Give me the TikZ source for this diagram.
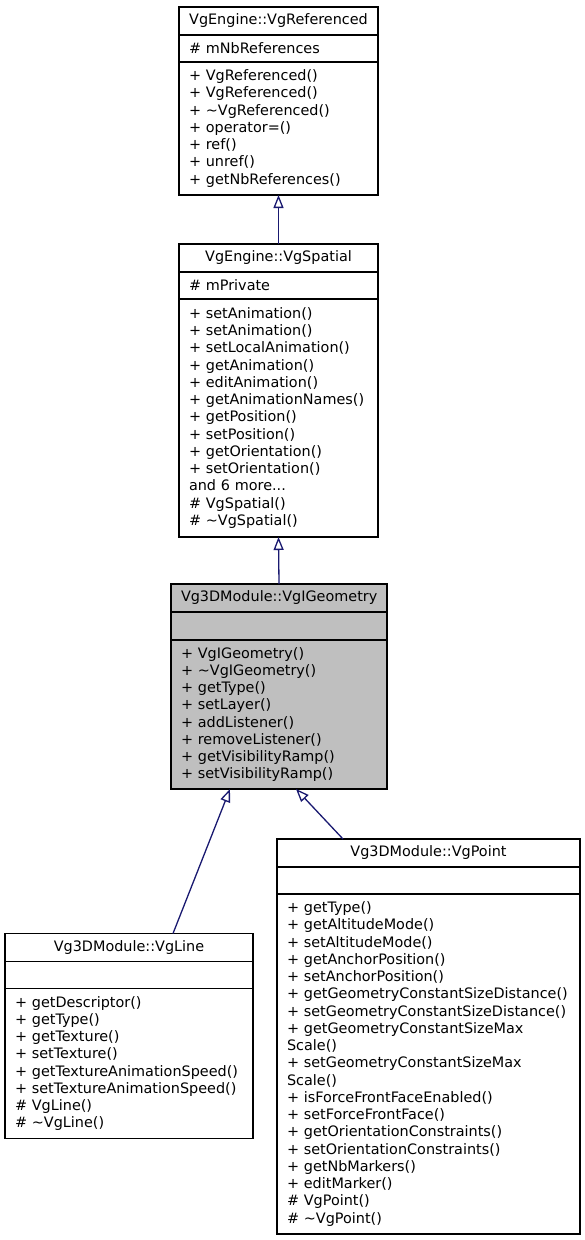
\documentclass[tikz,border=0pt]{standalone}
\usepackage{fontspec}
\setmainfont{DejaVu Sans}
\usepackage{xcolor}
\usetikzlibrary{positioning, arrows.meta}
\definecolor{edgeblue}{HTML}{191970}
\definecolor{boxgray}{HTML}{BFBFBF}

\begin{document}
\begin{tikzpicture}[
			x=1pt, y=-1pt,
			font=\fontsize{14.4}{17.25}\selectfont,
			box/.style={
				draw,
				rectangle,
				line width=1.3pt,
				outer sep=0pt,
				inner xsep=10pt,
				inner ysep=0pt,
				align=left
			},
			clshead/.style={box, minimum height=28pt, align=center},
			clsattr/.style={box, minimum height=27pt},
			clsops/.style={box},
			inherit/.style={
				draw=edgeblue,
				line width=1.3pt,
				-{Triangle[length=13pt, width=10pt, fill=white]}
			}
			]
			\useasboundingbox (0,0) rectangle (584,1240);
			
			% Top class
			\node[clshead, text width=179pt] (reftitle) at (278.5,21) {VgEngine::VgReferenced};
			\node[clsattr, text width=179pt, below=0pt of reftitle] (refattr) {\# mNbReferences};
			\node[clsops, text width=179pt, minimum height=133pt, below=0pt of refattr] (refops) {+ VgReferenced()\\+ VgReferenced()\\+ \textasciitilde VgReferenced()\\+ operator=()\\+ ref()\\+ unref()\\+ getNbReferences()};
			
			% Second class
			\node[clshead, text width=179pt] (spatialtitle) at (278.5,258) {VgEngine::VgSpatial};
			\node[clsattr, text width=179pt, below=0pt of spatialtitle] (spatialattr) {\# mPrivate};
			\node[clsops, text width=179pt, minimum height=238pt, below=0pt of spatialattr] (spatialops) {+ setAnimation()\\+ setAnimation()\\+ setLocalAnimation()\\+ getAnimation()\\+ editAnimation()\\+ getAnimationNames()\\+ getPosition()\\+ setPosition()\\+ getOrientation()\\+ setOrientation()\\and 6 more...\\\# VgSpatial()\\\# \textasciitilde VgSpatial()};
			
			% Middle class (grey)
			\node[clshead, fill=boxgray, text width=196pt] (geomtitle) at (279,598) {Vg3DModule::VgIGeometry};
			\node[clsattr, fill=boxgray, text width=196pt, minimum height=28pt, below=0pt of geomtitle] (geomattr) {};
			\node[clsops, fill=boxgray, text width=196pt, minimum height=149pt, below=0pt of geomattr] (geomops) {+ VgIGeometry()\\+ \textasciitilde VgIGeometry()\\+ getType()\\+ setLayer()\\+ addListener()\\+ removeListener()\\+ getVisibilityRamp()\\+ setVisibilityRamp()};
			
			% Bottom left class
			\node[clshead, text width=228pt] (linetitle) at (129,947.5) {Vg3DModule::VgLine};
			\node[clsattr, text width=228pt, below=0pt of linetitle] (lineattr) {};
			\node[clsops, text width=228pt, minimum height=150pt, below=0pt of lineattr] (lineops) {+ getDescriptor()\\+ getType()\\+ getTexture()\\+ setTexture()\\+ getTextureAnimationSpeed()\\+ setTextureAnimationSpeed()\\\# VgLine()\\\# \textasciitilde VgLine()};
			
			% Bottom right class
			\node[clshead, text width=283pt] (pointtitle) at (428.5,853) {Vg3DModule::VgPoint};
			\node[clsattr, text width=283pt, below=0pt of pointtitle] (pointattr) {};
			\node[clsops, text width=283pt, minimum height=340pt, below=0pt of pointattr] (pointops) {+ getType()\\+ getAltitudeMode()\\+ setAltitudeMode()\\+ getAnchorPosition()\\+ setAnchorPosition()\\+ getGeometryConstantSizeDistance()\\+ setGeometryConstantSizeDistance()\\+ getGeometryConstantSizeMax\\Scale()\\+ setGeometryConstantSizeMax\\Scale()\\+ isForceFrontFaceEnabled()\\+ setForceFrontFace()\\+ getOrientationConstraints()\\+ setOrientationConstraints()\\+ getNbMarkers()\\+ editMarker()\\\# VgPoint()\\\# \textasciitilde VgPoint()};
			
			% Inheritance arrows
			\draw[inherit] (spatialtitle.north) -- (refops.south);
			\draw[inherit] (geomtitle.north) -- (spatialops.south);
			\draw[inherit] ([xshift=44pt]linetitle.north) -- ([xshift=-49pt]geomops.south);
			\draw[inherit] ([xshift=-85.5pt]pointtitle.north) -- ([xshift=17pt]geomops.south);
			
		\end{tikzpicture}
\end{document}
